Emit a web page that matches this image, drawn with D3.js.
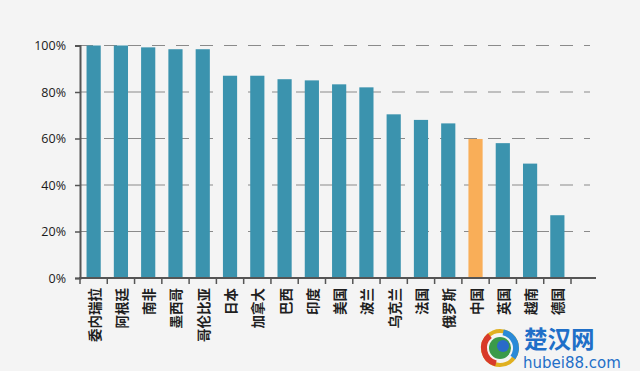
<!DOCTYPE html>
<html>
<head>
<meta charset="utf-8">
<script src="https://cdn.jsdelivr.net/npm/d3@7"></script>
<style>
  html, body { margin: 0; padding: 0; background: #f4f4f4; }
  svg { display: block; font-family: "Noto Sans CJK SC", "Noto Sans", sans-serif; }
</style>
</head>
<body>
<svg id="chart" width="640" height="371"></svg>
<script>
// countries along the x axis
const countries = ["委内瑞拉", "阿根廷", "南非", "墨西哥", "哥伦比亚", "日本", "加拿大", "巴西", "印度",
  "美国", "波兰", "乌克兰", "法国", "俄罗斯", "中国", "英国", "越南", "德国"];
// share, percent
const shares = [100, 100, 99.2, 98.4, 98.4, 87, 87, 85.5, 85, 83.3, 82, 70.4, 68, 66.5, 59.8, 58, 49.2, 27];
const highlight = "中国";
const yTicks = [0, 20, 40, 60, 80, 100];

const svg = d3.select("#chart");
const plotLeft = 80, plotRight = 571, plotTop = 45.5, plotBottom = 278;

// bands only up to 571, axis line runs a bit further
const x = d3.scaleBand().domain(countries).range([plotLeft, plotRight]).paddingInner(0.48).paddingOuter(0.24);
const y = d3.scaleLinear().domain([0, 100]).range([plotBottom, plotTop]);

// dashed gridlines
svg.append("g")
  .selectAll("line")
  .data(yTicks.filter(d => d > 0))
  .join("line")
  .attr("x1", plotLeft).attr("x2", 590)
  .attr("y1", d => y(d)).attr("y2", d => y(d))
  .attr("stroke", "#8a8a8a")
  .attr("stroke-width", 1)
  .attr("stroke-dasharray", "13,11");

// bars
svg.append("g")
  .selectAll("rect")
  .data(countries)
  .join("rect")
  .attr("x", d => x(d))
  .attr("width", x.bandwidth())
  .attr("y", (d, i) => y(shares[i]))
  .attr("height", (d, i) => plotBottom - y(shares[i]))
  .attr("fill", d => d === highlight ? "#f9ae58" : "#3b93ae");

// y axis
const yAxis = svg.append("g")
  .attr("transform", `translate(${plotLeft},0)`)
  .call(d3.axisLeft(y).tickValues(yTicks).tickFormat(d => d + "%").tickSize(5).tickPadding(9));
yAxis.select(".domain").attr("stroke", "#555").attr("stroke-width", 2);
yAxis.selectAll(".tick line").attr("stroke", "#555").attr("stroke-width", 1.5);
yAxis.selectAll(".tick text").attr("font-size", 12.5).attr("fill", "#1a1a1a")
  .attr("font-family", "'Open Sans', 'Noto Sans', sans-serif");

// x axis: ticks at band boundaries
const step = x.step();
const bounds = d3.range(countries.length + 1).map(i => plotLeft + i * step);
const xg = svg.append("g");
xg.append("line")
  .attr("x1", plotLeft - 1).attr("x2", 596)
  .attr("y1", plotBottom).attr("y2", plotBottom)
  .attr("stroke", "#555").attr("stroke-width", 2);
xg.selectAll("line.tick")
  .data(bounds)
  .join("line")
  .attr("class", "tick")
  .attr("x1", d => d).attr("x2", d => d)
  .attr("y1", plotBottom).attr("y2", plotBottom + 6)
  .attr("stroke", "#555").attr("stroke-width", 1.5);

// labels rotated, reading bottom to top
xg.selectAll("text")
  .data(countries)
  .join("text")
  .attr("transform", d => `translate(${x(d) + x.bandwidth() / 2},288) rotate(-90)`)
  .attr("font-size", 13.5)
  .attr("font-weight", "bold")
  .attr("fill", "#1f1f1f")
  .attr("text-anchor", "end")
  .attr("dominant-baseline", "central")
  .text(d => d);

// watermark
const wm = svg.append("g");
const logo = wm.append("g").attr("transform", "translate(500,348)");
logo.append("circle").attr("r", 17).attr("fill", "none").attr("stroke", "#e0b020").attr("stroke-width", 4);
logo.append("path").attr("d", d3.arc()({innerRadius: 13, outerRadius: 19, startAngle: 3.4, endAngle: 5.6})).attr("fill", "#d83a2a");
logo.append("path").attr("d", d3.arc()({innerRadius: 13, outerRadius: 19, startAngle: 0.2, endAngle: 2.2})).attr("fill", "#2a8ad8");
logo.append("circle").attr("r", 11).attr("fill", "#3a9a4a");
logo.append("circle").attr("r", 6).attr("cx", 3).attr("cy", -2).attr("fill", "#2a6ac8");
wm.append("text")
  .attr("x", 524).attr("y", 348)
  .attr("font-size", 23.5).attr("font-weight", "bold")
  .attr("fill", "#1f6fc8")
  .text("楚汉网");
wm.append("text")
  .attr("x", 523).attr("y", 368)
  .attr("font-size", 15)
  .attr("font-family", "'DejaVu Sans', sans-serif")
  .attr("fill", "#1f6fc8")
  .text("hubei88.com");
</script>
</body>
</html>
